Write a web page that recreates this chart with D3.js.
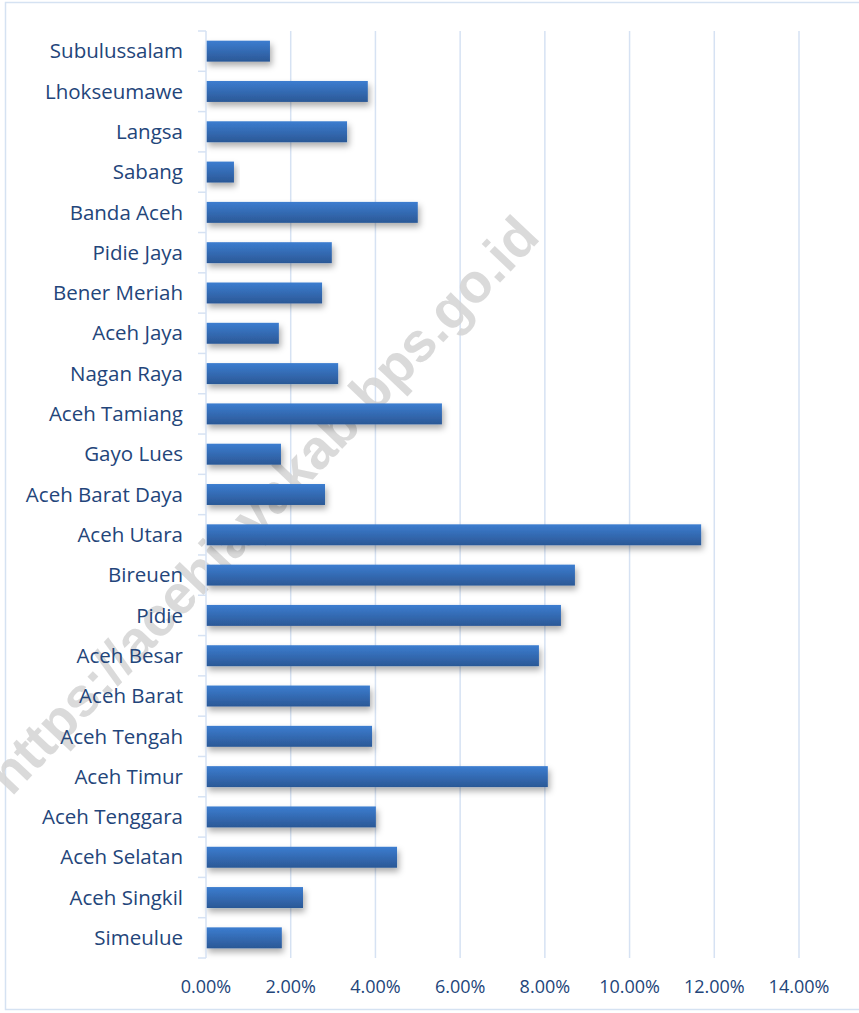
<!DOCTYPE html>
<html><head><meta charset="utf-8">
<script src="https://cdn.jsdelivr.net/npm/d3@7"></script>
<style>html,body{margin:0;padding:0;background:#fff;}svg{display:block;}</style>
</head><body>
<svg id="c" width="859" height="1013"></svg>
<script>
const categories = ["Subulussalam","Lhokseumawe","Langsa","Sabang","Banda Aceh","Pidie Jaya","Bener Meriah","Aceh Jaya","Nagan Raya","Aceh Tamiang","Gayo Lues","Aceh Barat Daya","Aceh Utara","Bireuen","Pidie","Aceh Besar","Aceh Barat","Aceh Tengah","Aceh Timur","Aceh Tenggara","Aceh Selatan","Aceh Singkil","Simeulue"];
const values = [1.51,3.82,3.33,0.66,5.00,2.97,2.74,1.72,3.12,5.57,1.77,2.81,11.69,8.71,8.38,7.86,3.87,3.92,8.07,4.01,4.51,2.29,1.79];
const xTicks = [0,2,4,6,8,10,12,14];
const watermark = "https://acehjayakab.bps.go.id";

const svg = d3.select("#c");
const defs = svg.append("defs");
const g1 = defs.append("linearGradient").attr("id","bg").attr("x1",0).attr("y1",0).attr("x2",0).attr("y2",1);
g1.append("stop").attr("offset","0%").attr("stop-color","#3c7dd0");
g1.append("stop").attr("offset","100%").attr("stop-color","#2b5896");
const f = defs.append("filter").attr("id","sh").attr("x","-10%").attr("y","-30%").attr("width","130%").attr("height","200%");
f.append("feDropShadow").attr("dx",2).attr("dy",4).attr("stdDeviation",3).attr("flood-color","#000").attr("flood-opacity",0.32);

// outer border
svg.append("rect").attr("x",5.5).attr("y",2.5).attr("width",900).attr("height",1007)
  .attr("fill","none").attr("stroke","#d5e2f2").attr("stroke-width",1.5);

const x = d3.scaleLinear().domain([0,14]).range([206,799]);
const y = d3.scaleBand().domain(categories).range([31,958]).paddingInner(0.48).paddingOuter(0.24);

// gridlines
svg.append("g").selectAll("line").data(xTicks.slice(1)).join("line")
  .attr("x1",d=>x(d)).attr("x2",d=>x(d)).attr("y1",31).attr("y2",958)
  .attr("stroke","#d6e2f3").attr("stroke-width",1.5);

// watermark
svg.append("text").attr("transform","translate(266,508) rotate(-46.5)")
  .attr("text-anchor","middle").attr("dominant-baseline","middle")
  .attr("font-family","Liberation Sans, Arial, sans-serif").attr("font-weight","bold")
  .attr("font-size",55).attr("fill","#d4d4d4").attr("fill-opacity",0.85).text(watermark);

// bars
svg.append("g").selectAll("rect").data(categories).join("rect")
  .attr("x",x(0)).attr("y",d=>y(d)).attr("height",y.bandwidth())
  .attr("width",(d,i)=>x(values[i])-x(0))
  .attr("fill","url(#bg)").attr("filter","url(#sh)");

// y axis
const ya = svg.append("g");
ya.append("line").attr("x1",206).attr("x2",206).attr("y1",31).attr("y2",958).attr("stroke","#d6e2f3").attr("stroke-width",1.5);
const bounds = d3.range(categories.length+1).map(i=>31+i*(927/categories.length));
ya.selectAll("line.t").data(bounds).join("line").attr("class","t")
  .attr("x1",198).attr("x2",206).attr("y1",d=>d).attr("y2",d=>d)
  .attr("stroke","#d6e2f3").attr("stroke-width",1.5);
ya.selectAll("text").data(categories).join("text")
  .attr("x",183).attr("y",d=>y(d)+y.bandwidth()/2).attr("dy","0.35em")
  .attr("text-anchor","end").attr("font-family","Open Sans, sans-serif").attr("font-size",20.5)
  .attr("fill","#23457a").text(d=>d);

// x tick labels
svg.append("g").selectAll("text").data(xTicks).join("text")
  .attr("x",d=>x(d)).attr("y",987).attr("dy","0.35em").attr("text-anchor","middle")
  .attr("font-family","Open Sans, sans-serif").attr("font-size",18).attr("fill","#23457a")
  .text(d=>d3.format(".2f")(d)+"%");
</script>
</body></html>
